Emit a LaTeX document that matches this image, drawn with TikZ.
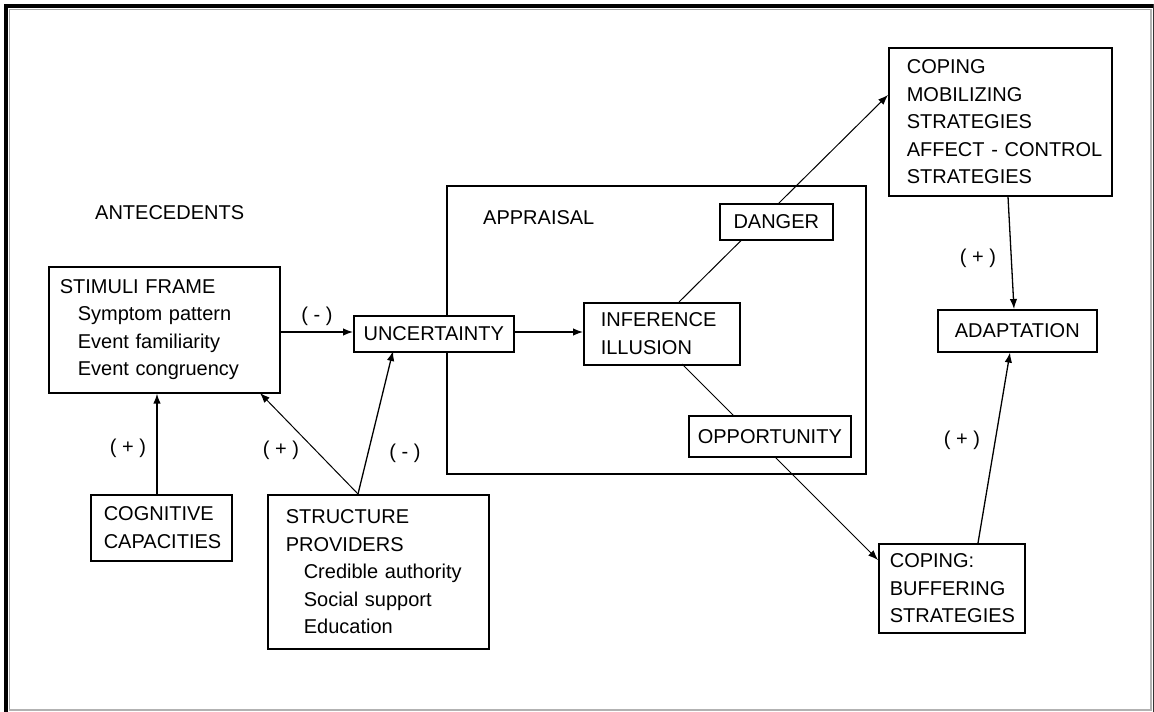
\documentclass[tikz,border=0pt]{standalone}
\usepackage{fontspec}
\setmainfont{Liberation Sans}
\usetikzlibrary{arrows.meta}
\tikzset{
  boxnode/.style={draw, fill=white, line width=1.6pt, rectangle, anchor=north west, inner ysep=0pt,
    font=\fontsize{20}{27.5}\selectfont, align=left},
  conn/.style={line width=1.3pt, -{Latex[length=10pt,width=7.5pt]}},
  thinconn/.style={line width=1pt, -{Latex[length=10pt,width=7.5pt]}},
  lbl/.style={font=\fontsize{20}{24}\selectfont, inner sep=0pt},
  plain/.style={font=\fontsize{20}{24}\selectfont, inner sep=0pt, anchor=west}
}
\newcommand{\ind}{\hspace*{18pt}}
\begin{document}
\begin{tikzpicture}[x=1pt,y=-1pt]
\useasboundingbox (0,0) rectangle (1154,712);
\fill[white] (0,0) rectangle (1154,712);
% window frame
\draw[line width=4pt] (4,6) -- (1154,6);
\draw[line width=4pt] (6,4) -- (6,712);
\draw[line width=1pt, gray!70] (9,9) -- (1150,9);
\draw[line width=1pt, gray!70] (9,9) -- (9,709);
\draw[line width=1.2pt, gray!60] (1151,9) -- (1151,710) -- (9,710);
\draw[line width=1pt, black!80] (1153.5,4) -- (1153.5,712);

% appraisal frame
\node[draw, line width=1.6pt, anchor=north west, minimum width=419pt, minimum height=288pt, inner sep=0pt] (appr) at (446,185) {};

% labels
\node[plain] (ante) at (95,213) {ANTECEDENTS};
\node[plain] (apprlbl) at (483,218) {APPRAISAL};

% boxes reached by the long diagonal lines
\node[boxnode, text width=122pt, inner xsep=17pt, minimum height=62pt] (inf) at (583,302) {INFERENCE\\ILLUSION};
\node[boxnode, text width=187pt, inner xsep=18pt, minimum height=148pt] (mob) at (888,47)
  {COPING\\MOBILIZING\\STRATEGIES\\\mbox{AFFECT - CONTROL}\\STRATEGIES};
\node[boxnode, text width=124pt, inner xsep=11pt, minimum height=89pt] (buf) at (878,543)
  {COPING:\\BUFFERING\\STRATEGIES};
\draw[thinconn] (679,302) -- (mob.west |- 0,95);
\draw[thinconn] (682,364) -- (buf.west |- 0,560);

\node[boxnode, align=center, minimum width=113pt, minimum height=36pt, inner xsep=0pt] (danger) at (719,203) {DANGER};
\node[boxnode, align=center, minimum width=162pt, minimum height=41pt, inner xsep=0pt] (opp) at (688,415) {OPPORTUNITY};

\node[boxnode, text width=209pt, inner xsep=11pt, minimum height=126pt] (stim) at (48,266)
  {STIMULI FRAME\\\ind Symptom pattern\\\ind Event familiarity\\\ind Event congruency};
\node[boxnode, align=center, minimum width=160pt, minimum height=36pt, inner xsep=0pt] (unc) at (353,315) {UNCERTAINTY};
\node[boxnode, align=center, minimum width=159pt, minimum height=42pt, inner xsep=0pt] (adapt) at (937,309) {ADAPTATION};
\node[boxnode, text width=115pt, inner xsep=13pt, minimum height=66pt] (cog) at (90,494)
  {COGNITIVE\\CAPACITIES};
\node[boxnode, text width=185pt, inner xsep=18pt, minimum height=154pt] (struct) at (267,494)
  {STRUCTURE\\PROVIDERS\\\ind Credible authority\\\ind Social support\\\ind Education};

% connectors
\draw[conn] (stim.east |- 0,332) -- (unc.west |- 0,332);
\draw[conn] (unc.east |- 0,332) -- (inf.west |- 0,332);
\draw[conn] (cog.north -| 157,0) -- (stim.south -| 157,0);
\coordinate (sp) at (358,494);
\draw[thinconn] (sp) -- (260,393);
\draw[conn] (sp) -- (393,351);
\draw[conn] (mob.south -| 1008,0) -- (adapt.north -| 1014,0);
\draw[conn] (buf.north -| 978,0) -- (adapt.south -| 1010,0);

% signs
\node[lbl] (s1) at (317,316) {( - )};
\node[lbl] (s2) at (128,448) {( + )};
\node[lbl] (s3) at (281,450) {( + )};
\node[lbl] (s4) at (405,453) {( - )};
\node[lbl] (s5) at (978,258) {( + )};
\node[lbl] (s6) at (962,440) {( + )};
\end{tikzpicture}
\end{document}
